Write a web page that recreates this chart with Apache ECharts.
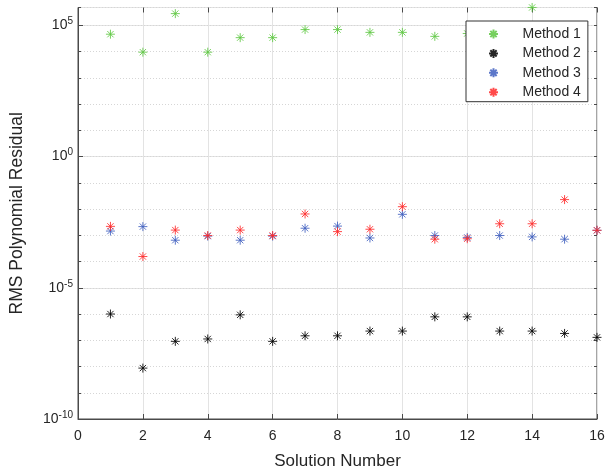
<!DOCTYPE html>
<html>
<head>
<meta charset="utf-8">
<script src="https://cdn.jsdelivr.net/npm/echarts@6/dist/echarts.min.js"></script>
<style>
  html, body { margin: 0; padding: 0; background: #fff; }
</style>
</head>
<body>
<div id="residual" style="width: 609px; height: 472px"></div>
<script>
// solution numbers 1..16
var solutions = [1, 2, 3, 4, 5, 6, 7, 8, 9, 10, 11, 12, 13, 14, 15, 16];

// RMS polynomial residual per method, null = not shown
var method1 = [4.6e4, 9.5e3, 2.8e5, 9.5e3, 3.4e4, 3.4e4, 6.9e4, 6.9e4, 5.4e4, 5.4e4, 3.8e4, 4.9e4, 4.0e4, 4.8e5, 5.0e4, null];
var method2 = [1.0e-6, 8.7e-9, 9.1e-8, 1.12e-7, 9.3e-7, 9.1e-8, 1.48e-7, 1.48e-7, 2.24e-7, 2.24e-7, 7.8e-7, 7.8e-7, 2.24e-7, 2.24e-7, 1.82e-7, 1.29e-7];
var method3 = [1.45e-3, 2.14e-3, 6.5e-4, 9.3e-4, 6.5e-4, 9.3e-4, 1.86e-3, 2.24e-3, 7.9e-4, 6.3e-3, 9.8e-4, 8.3e-4, 9.8e-4, 8.7e-4, 7.1e-4, 1.55e-3];
var method4 = [2.19e-3, 1.55e-4, 1.58e-3, 9.8e-4, 1.58e-3, 9.8e-4, 6.5e-3, 1.38e-3, 1.7e-3, 1.23e-2, 7.1e-4, 7.4e-4, 2.75e-3, 2.75e-3, 2.29e-2, 1.55e-3];

var methodNames = ["Method 1", "Method 2", "Method 3", "Method 4"];
var methodColors = ["#5fc843", "#000000", "#3f5fc0", "#ff2a2a"];

// y axis runs in decades (exponent of 10)
var yMin = -10;
var yMax = 5.68;

var asterisk = "path://M0,5L10,5M5,0L5,10M1.5,1.5L8.5,8.5M1.5,8.5L8.5,1.5";
var font = "Liberation Sans, Arial, Helvetica, sans-serif";

function toPoints(values) {
  var res = [];
  for (var i = 0; i < values.length; i++) {
    if (values[i] == null) continue;
    res.push([solutions[i], Math.log10(values[i])]);
  }
  return res;
}

var chartDom = document.getElementById("residual");
var myChart = echarts.init(chartDom);
var option;

var seriesData = [method1, method2, method3, method4];
var series = [];
for (var k = 0; k < seriesData.length; k++) {
  series.push({
    name: methodNames[k],
    type: "scatter",
    yAxisIndex: 0,
    symbol: asterisk,
    symbolSize: 9,
    symbolKeepAspect: true,
    itemStyle: {
      color: "rgba(0,0,0,0)",
      borderColor: methodColors[k],
      borderWidth: 1,
      opacity: 0.85,
    },
    emphasis: { disabled: true },
    data: toPoints(seriesData[k]),
  });
}

option = {
  animation: false,
  grid: {
    left: 78,
    right: 12,
    top: 7.5,
    bottom: 53,
    outerBoundsMode: "none",
    containLabel: false,
    show: true,
    borderColor: "#4a4a4a",
    borderWidth: 1,
  },
  legend: {
    orient: "vertical",
    left: 466,
    top: 21,
    padding: [6, 7, 2.5, 22],
    itemWidth: 9,
    itemHeight: 9,
    itemGap: 5.4,
    backgroundColor: "#ffffff",
    borderColor: "#333333",
    borderWidth: 1,
    textStyle: {
      fontFamily: font,
      fontSize: 14,
      color: "#262626",
      padding: [0, 0, 0, 19.5],
    },
    data: methodNames,
  },
  xAxis: [
    {
      type: "value",
      min: 0,
      max: 16,
      interval: 2,
      name: "Solution Number",
      nameLocation: "middle",
      nameGap: 34,
      nameTextStyle: { fontFamily: font, fontSize: 17, color: "#262626" },
      axisLine: { show: true, onZero: false, lineStyle: { color: "#4a4a4a" } },
      axisTick: { show: true, inside: true, length: 5, lineStyle: { color: "#4a4a4a" } },
      axisLabel: { fontFamily: font, fontSize: 14, color: "#262626", margin: 10 },
      splitLine: { show: true, lineStyle: { color: "#e3e3e3", width: 1 } },
    },
    {
      type: "value",
      position: "top",
      min: 0,
      max: 16,
      interval: 2,
      axisLine: { show: false, onZero: false },
      axisTick: { show: true, inside: true, length: 5, lineStyle: { color: "#4a4a4a" } },
      axisLabel: { show: false },
      splitLine: { show: false },
    },
  ],
  yAxis: [
    {
      type: "value",
      min: yMin,
      max: yMax,
      interval: 5,
      name: "RMS Polynomial Residual",
      nameLocation: "middle",
      nameGap: 51.5,
      nameTextStyle: { fontFamily: font, fontSize: 17.5, color: "#262626" },
      axisLine: { show: true, onZero: false, lineStyle: { color: "#4a4a4a" } },
      axisTick: { show: true, inside: true, length: 5, lineStyle: { color: "#4a4a4a" } },
      axisLabel: {
        margin: 5,
        showMaxLabel: false,
        formatter: function (v) {
          if (Math.abs(v - Math.round(v)) > 1e-6 || Math.round(v) % 5 !== 0) return "";
          return "{b|10}{s|" + Math.round(v) + "}";
        },
        rich: {
          b: { fontFamily: font, fontSize: 14, color: "#262626" },
          s: { fontFamily: font, fontSize: 10, color: "#262626", padding: [0, 0, 8, 0] },
        },
      },
      splitLine: { show: true, lineStyle: { color: "#e3e3e3", width: 1 } },
    },
    {
      // decade grid lines (dotted) + minor ticks on the left
      type: "value",
      position: "left",
      min: yMin,
      max: yMax,
      interval: 1,
      axisLine: { show: false, onZero: false },
      axisTick: { show: true, inside: true, length: 3, lineStyle: { color: "#4a4a4a" } },
      axisLabel: { show: false },
      splitLine: { show: true, lineStyle: { color: "#d6d6d6", type: [1, 2], width: 1 } },
    },
    {
      type: "value",
      position: "right",
      min: yMin,
      max: yMax,
      interval: 1,
      axisLine: { show: false, onZero: false },
      axisTick: { show: true, inside: true, length: 3, lineStyle: { color: "#4a4a4a" } },
      axisLabel: { show: false },
      splitLine: { show: false },
    },
  ],
  series: series,
};

option && myChart.setOption(option);
</script>
</body>
</html>
